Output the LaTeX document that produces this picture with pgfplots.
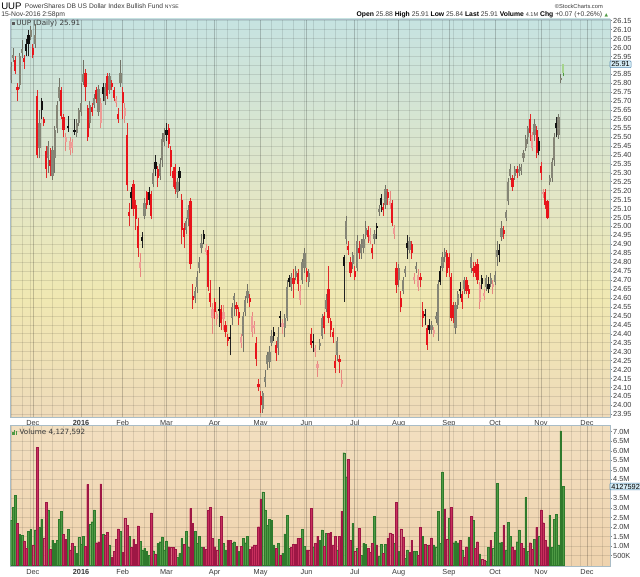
\documentclass[border=0pt]{standalone}
\usepackage{fontspec}
\setmainfont{Liberation Sans}
\newfontfamily\djv{DejaVu Sans}
\usepackage{pgfplots}
\usepackage{pgfplotstable}
\pgfplotsset{compat=1.18}

\definecolor{pbTop}{HTML}{C6E3E1}
\definecolor{pbMid}{HTML}{E2E6C6}
\definecolor{pbYel}{HTML}{F0E8B2}
\definecolor{pbBot}{HTML}{EFDBBA}
\definecolor{vbTop}{HTML}{F2DFC0}
\definecolor{vbBot}{HTML}{EFD3AE}
\pgfdeclareverticalshading{pricebg}{100bp}{color(0bp)=(pbBot); color(25bp)=(pbBot); color(40bp)=(pbYel); color(53bp)=(pbMid); color(75bp)=(pbTop); color(100bp)=(pbTop)}
\pgfdeclareverticalshading{volbg}{100bp}{color(0bp)=(vbBot); color(25bp)=(vbBot); color(75bp)=(vbTop); color(100bp)=(vbTop)}

\definecolor{frameC}{HTML}{A9BCC6}
\definecolor{labelC}{HTML}{3A3A3A}
\definecolor{cGb}{HTML}{858576}
\definecolor{cGw}{HTML}{727266}
\definecolor{cKb}{HTML}{111111}
\definecolor{cKw}{HTML}{222222}
\definecolor{cRb}{HTML}{E8141B}
\definecolor{cRw}{HTML}{E02A2A}
\definecolor{cPb}{HTML}{EE9C96}
\definecolor{cPw}{HTML}{E8867F}
\definecolor{cNb}{HTML}{A5D48C}
\definecolor{cNw}{HTML}{4E9A3E}
\definecolor{vG}{HTML}{4E9A44}
\definecolor{vGd}{HTML}{2F7A2C}
\definecolor{vR}{HTML}{C8305E}
\definecolor{vRd}{HTML}{9E1745}
\definecolor{boxF}{HTML}{D6ECF5}
\definecolor{boxD}{HTML}{5B8FB5}

\newcommand{\tlf}{\fontsize{5.5}{6}\selectfont}

\pgfplotstableread{
x t o h l c
0 1 25.82 25.92 25.80 25.89
1 1 25.94 26.00 25.92 25.96
2 3 25.93 25.95 25.85 25.87
3 3 25.78 25.80 25.70 25.76
4 1 25.79 25.97 25.77 25.95
5 1 25.97 26.04 25.94 25.99
6 3 25.94 25.96 25.88 25.92
7 2 26.02 26.05 25.95 25.98
8 2 26.07 26.10 25.95 26.02
9 1 26.06 26.12 26.04 26.10
10 3 26.00 26.02 25.94 25.96
11 1 26.02 26.13 26.00 26.07
12 3 25.73 25.76 25.38 25.40
13 1 25.44 25.65 25.38 25.58
14 2 25.70 25.72 25.60 25.65
15 3 25.60 25.61 25.56 25.58
16 3 25.42 25.45 25.27 25.32
17 1 25.38 25.48 25.30 25.45
18 3 25.37 25.44 25.28 25.34
19 1 25.28 25.45 25.26 25.43
20 1 25.38 25.56 25.30 25.54
21 1 25.55 25.70 25.52 25.68
22 1 25.72 25.83 25.70 25.78
23 3 25.76 25.78 25.60 25.62
24 3 25.61 25.63 25.50 25.54
25 4 25.47 25.52 25.42 25.50
26 2 25.56 25.62 25.53 25.55
27 4 25.43 25.50 25.40 25.48
28 4 25.44 25.49 25.41 25.47
29 2 25.54 25.60 25.51 25.53
30 1 25.52 25.60 25.50 25.58
31 1 25.58 25.66 25.56 25.65
32 1 25.64 25.80 25.62 25.69
33 1 25.81 25.93 25.79 25.85
34 3 25.86 25.88 25.70 25.78
35 3 25.66 25.68 25.48 25.50
36 1 25.58 25.70 25.55 25.68
37 3 25.67 25.69 25.62 25.64
38 1 25.68 25.74 25.66 25.72
39 3 25.76 25.78 25.69 25.71
40 1 25.64 25.79 25.62 25.77
41 4 25.58 25.72 25.55 25.69
42 2 25.78 25.80 25.70 25.74
43 1 25.70 25.80 25.68 25.78
44 3 25.84 25.86 25.71 25.73
45 1 25.76 25.86 25.74 25.84
46 3 25.80 25.82 25.76 25.78
47 3 25.76 25.78 25.70 25.72
48 4 25.69 25.73 25.67 25.71
49 3 25.63 25.66 25.58 25.60
50 1 25.80 25.93 25.78 25.86
51 3 25.75 25.78 25.60 25.69
52 4 25.62 25.69 25.58 25.66
53 3 25.51 25.58 25.20 25.23
54 3 25.08 25.13 25.00 25.06
55 2 25.19 25.22 25.10 25.16
56 3 25.24 25.26 25.06 25.10
57 3 25.12 25.15 24.98 25.04
58 3 25.00 25.05 24.83 24.88
59 4 24.77 24.85 24.72 24.80
60 2 24.94 24.97 24.88 24.92
61 1 25.06 25.16 25.04 25.13
62 3 25.19 25.20 25.10 25.12
63 2 25.19 25.22 25.12 25.15
64 3 25.18 25.20 25.04 25.06
65 1 25.24 25.32 25.22 25.30
66 2 25.36 25.40 25.28 25.32
67 3 25.32 25.34 25.22 25.27
68 1 25.28 25.38 25.26 25.35
69 1 25.37 25.52 25.33 25.49
70 1 25.47 25.55 25.45 25.52
71 2 25.54 25.58 25.48 25.51
72 3 25.55 25.57 25.44 25.46
73 3 25.43 25.45 25.28 25.33
74 3 25.31 25.33 25.22 25.27
75 3 25.33 25.35 25.18 25.21
76 1 25.19 25.27 25.16 25.25
77 2 25.31 25.33 25.20 25.27
78 3 25.15 25.18 24.90 24.98
79 3 24.99 25.02 24.88 24.94
80 1 24.98 25.05 24.96 25.03
81 1 25.04 25.12 25.00 25.09
82 3 25.14 25.16 24.76 24.79
83 3 24.61 24.68 24.54 24.59
84 1 24.60 24.66 24.57 24.64
85 1 24.66 24.75 24.63 24.72
86 1 24.77 24.83 24.74 24.80
87 1 24.88 24.96 24.85 24.91
88 2 24.96 24.98 24.90 24.93
89 4 24.86 24.90 24.84 24.88
90 3 24.87 24.89 24.64 24.66
91 3 24.63 24.70 24.55 24.58
92 4 24.49 24.57 24.40 24.54
93 3 24.58 24.60 24.48 24.52
94 4 24.48 24.53 24.45 24.51
95 2 24.54 24.66 24.44 24.53
96 3 24.54 24.56 24.42 24.46
97 4 24.48 24.56 24.42 24.52
98 3 24.45 24.47 24.38 24.41
99 3 24.38 24.40 24.33 24.36
100 2 24.38 24.45 24.28 24.37
101 1 24.49 24.57 24.45 24.55
102 1 24.59 24.63 24.50 24.61
103 3 24.56 24.58 24.50 24.54
104 3 24.52 24.55 24.45 24.49
105 4 24.35 24.40 24.32 24.38
106 1 24.39 24.52 24.30 24.50
107 1 24.52 24.61 24.50 24.59
108 1 24.60 24.68 24.57 24.64
109 3 24.60 24.62 24.55 24.58
110 4 24.41 24.52 24.38 24.50
111 4 24.43 24.47 24.40 24.45
112 3 24.35 24.38 24.22 24.26
113 3 24.12 24.15 24.08 24.10
114 3 24.05 24.08 23.96 24.00
115 1 23.98 24.08 23.96 24.07
116 1 24.13 24.20 24.10 24.16
117 1 24.23 24.30 24.20 24.28
118 1 24.24 24.33 24.21 24.30
119 1 24.35 24.42 24.33 24.39
120 2 24.41 24.44 24.36 24.39
121 3 24.34 24.36 24.25 24.29
122 1 24.32 24.44 24.28 24.38
123 2 24.50 24.53 24.44 24.49
124 4 24.44 24.48 24.40 24.46
125 1 24.43 24.51 24.38 24.49
126 1 24.49 24.70 24.47 24.66
127 2 24.71 24.73 24.66 24.69
128 1 24.66 24.74 24.64 24.72
129 3 24.71 24.76 24.60 24.68
130 1 24.72 24.78 24.70 24.75
131 3 24.74 24.76 24.64 24.68
132 4 24.59 24.67 24.56 24.64
133 1 24.70 24.82 24.68 24.80
134 1 24.77 24.88 24.74 24.85
135 3 24.75 24.77 24.69 24.72
136 1 24.69 24.76 24.66 24.74
137 3 24.40 24.43 24.32 24.34
138 2 24.36 24.40 24.30 24.35
139 4 24.30 24.34 24.27 24.32
140 4 24.21 24.25 24.16 24.23
141 1 24.33 24.37 24.31 24.35
142 1 24.39 24.51 24.37 24.49
143 3 24.50 24.52 24.40 24.43
144 1 24.54 24.62 24.52 24.59
145 3 24.65 24.78 24.46 24.49
146 3 24.47 24.49 24.38 24.42
147 3 24.41 24.43 24.35 24.38
148 3 24.25 24.28 24.18 24.21
149 1 24.28 24.38 24.25 24.36
150 3 24.26 24.28 24.18 24.24
151 4 24.12 24.20 24.10 24.14
152 2 24.83 24.84 24.58 24.78
153 1 24.93 25.06 24.90 25.03
154 3 24.89 24.92 24.84 24.87
155 3 24.80 24.83 24.72 24.74
156 1 24.79 24.86 24.76 24.84
157 3 24.75 24.78 24.70 24.72
158 1 24.77 24.95 24.75 24.92
159 3 24.88 24.92 24.82 24.85
160 1 24.85 24.93 24.82 24.90
161 1 24.88 24.96 24.85 24.93
162 1 24.95 25.03 24.93 24.99
163 3 24.98 25.00 24.91 24.94
164 4 24.92 24.99 24.90 24.95
165 3 24.88 24.90 24.82 24.85
166 1 24.93 24.98 24.90 24.96
167 2 25.00 25.02 24.93 24.99
168 1 25.08 25.12 25.06 25.10
169 2 25.16 25.18 25.08 25.12
170 3 25.11 25.13 25.06 25.09
171 1 25.12 25.23 25.10 25.21
172 3 25.19 25.21 25.12 25.16
173 4 25.12 25.20 25.10 25.14
174 3 25.13 25.15 25.00 25.02
175 4 24.96 25.01 24.93 24.99
176 3 24.77 24.80 24.63 24.67
177 1 24.70 24.79 24.66 24.77
178 3 24.60 24.64 24.52 24.55
179 1 24.64 24.72 24.62 24.70
180 1 24.74 24.78 24.72 24.76
181 2 24.91 24.95 24.82 24.88
182 1 24.87 24.94 24.85 24.92
183 3 24.90 24.92 24.82 24.85
184 4 24.70 24.74 24.68 24.72
185 1 24.76 24.80 24.74 24.78
186 4 24.66 24.76 24.64 24.73
187 3 24.72 24.74 24.66 24.70
188 3 24.53 24.58 24.44 24.49
189 2 24.51 24.54 24.45 24.50
190 3 24.43 24.45 24.31 24.34
191 2 24.45 24.48 24.40 24.42
192 1 24.42 24.47 24.40 24.45
193 4 24.40 24.44 24.38 24.42
194 1 24.48 24.52 24.46 24.50
195 1 24.45 24.70 24.36 24.68
196 2 24.75 24.78 24.67 24.69
197 1 24.77 24.86 24.75 24.83
198 1 24.83 24.88 24.80 24.86
199 3 24.85 24.87 24.72 24.74
200 3 24.83 24.85 24.72 24.77
201 3 24.72 24.74 24.47 24.49
202 3 24.56 24.58 24.46 24.49
203 1 24.43 24.58 24.40 24.56
204 1 24.56 24.64 24.54 24.62
205 2 24.65 24.69 24.60 24.64
206 3 24.62 24.64 24.54 24.58
207 1 24.65 24.72 24.62 24.70
208 3 24.70 24.72 24.62 24.64
209 3 24.65 24.67 24.60 24.62
210 1 24.77 24.85 24.74 24.83
211 3 24.77 24.80 24.72 24.75
212 3 24.78 24.80 24.72 24.74
213 3 24.79 24.82 24.68 24.70
214 4 24.58 24.69 24.54 24.67
215 2 24.71 24.73 24.65 24.68
216 4 24.61 24.65 24.59 24.63
217 1 24.66 24.73 24.64 24.71
218 2 24.68 24.72 24.63 24.65
219 1 24.68 24.74 24.66 24.71
220 4 24.66 24.70 24.62 24.68
221 1 24.69 24.75 24.67 24.73
222 1 24.83 24.92 24.78 24.87
223 2 24.87 24.90 24.80 24.84
224 1 24.94 25.03 24.92 24.99
225 3 24.98 25.00 24.93 24.96
226 1 25.05 25.09 25.03 25.08
227 1 25.14 25.27 25.12 25.25
228 1 25.28 25.35 25.26 25.32
229 3 25.27 25.29 25.20 25.22
230 1 25.28 25.34 25.26 25.32
231 3 25.32 25.34 25.27 25.30
232 1 25.30 25.35 25.28 25.32
233 1 25.31 25.35 25.29 25.33
234 1 25.38 25.43 25.36 25.41
235 1 25.44 25.51 25.42 25.49
236 1 25.50 25.56 25.46 25.55
237 3 25.60 25.63 25.48 25.52
238 4 25.44 25.53 25.42 25.51
239 1 25.51 25.60 25.48 25.57
240 3 25.54 25.56 25.38 25.41
241 2 25.48 25.50 25.40 25.42
242 3 25.34 25.36 25.26 25.30
243 4 25.18 25.21 25.16 25.19
244 3 25.19 25.21 25.10 25.12
245 3 25.14 25.15 25.04 25.05
246 1 25.25 25.29 25.23 25.27
247 1 25.27 25.38 25.25 25.36
248 1 25.37 25.52 25.34 25.50
249 2 25.58 25.61 25.50 25.55
250 1 25.51 25.63 25.49 25.61
251 1 25.82 25.85 25.80 25.83
252 5 25.86 25.91 25.84 25.91
}\price
\pgfplotstablecreatecol[create col/expr={min(\thisrow{o},\thisrow{c})}]{bb}{\price}
\pgfplotstablecreatecol[create col/expr={abs(\thisrow{c}-\thisrow{o})}]{bh}{\price}
\pgfplotstablecreatecol[create col/expr={\thisrow{h}-\thisrow{l}}]{wh}{\price}

\pgfplotstableread{
x v c
0 2.37 1
1 3.02 1
2 3.68 1
3 2.19 0
4 1.62 1
5 1.58 1
6 1.27 0
7 0.88 0
8 1.76 1
9 1.88 1
10 1.06 0
11 1.85 1
12 6.18 0
13 1.97 1
14 2.42 1
15 1.43 0
16 3.31 0
17 2.90 1
18 0.83 0
19 1.32 1
20 1.15 1
21 1.30 1
22 2.41 1
23 2.84 1
24 1.62 0
25 1.37 0
26 1.88 1
27 0.80 0
28 1.15 0
29 1.00 1
30 0.62 1
31 1.46 1
32 1.11 1
33 1.50 1
34 1.00 0
35 4.24 0
36 2.16 1
37 2.28 1
38 2.90 1
39 1.18 0
40 1.23 0
41 4.26 0
42 1.62 1
43 1.58 0
44 1.74 0
45 1.06 1
46 0.41 0
47 0.71 0
48 1.37 0
49 1.90 0
50 1.76 1
51 0.66 0
52 2.47 0
53 2.10 0
54 1.50 1
55 0.92 0
56 1.36 0
57 1.11 0
58 2.06 0
59 1.25 1
60 0.80 1
61 0.90 1
62 0.71 1
63 0.50 1
64 2.75 0
65 0.76 1
66 0.59 0
67 1.15 1
68 1.23 1
69 1.48 1
70 0.80 1
71 1.27 1
72 0.97 0
73 0.94 0
74 0.94 0
75 0.83 0
76 0.41 1
77 0.62 1
78 1.41 1
79 1.09 0
80 1.79 1
81 0.97 1
82 2.98 0
83 2.19 0
84 1.76 1
85 1.15 1
86 1.53 1
87 0.94 1
88 0.92 0
89 0.83 0
90 2.86 0
91 3.02 0
92 1.41 0
93 0.97 0
94 0.80 0
95 1.36 1
96 2.58 0
97 1.15 1
98 0.80 1
99 1.32 0
100 1.32 0
101 1.15 1
102 1.23 1
103 1.00 0
104 0.71 1
105 1.00 0
106 1.41 1
107 1.18 1
108 1.53 1
109 0.83 0
110 0.97 0
111 1.06 0
112 1.06 0
113 2.02 0
114 3.45 0
115 3.85 1
116 2.90 1
117 2.10 1
118 2.40 1
119 2.37 1
120 1.06 1
121 0.88 0
122 1.15 1
123 0.53 0
124 0.62 1
125 1.64 1
126 2.63 1
127 0.88 1
128 0.95 0
129 1.11 0
130 1.11 0
131 1.41 0
132 1.41 0
133 1.88 1
134 1.00 1
135 0.80 0
136 0.80 0
137 2.98 0
138 0.97 1
139 1.15 0
140 1.53 0
141 1.32 1
142 1.85 1
143 1.00 0
144 1.67 1
145 1.67 0
146 1.72 0
147 1.06 0
148 1.53 0
149 0.80 1
150 1.50 0
151 2.84 0
152 5.90 1
153 4.64 1
154 5.55 0
155 1.32 0
156 2.19 1
157 0.71 0
158 0.88 1
159 1.93 0
160 0.53 1
161 1.15 1
162 1.11 1
163 0.90 0
164 0.66 0
165 1.15 0
166 2.58 1
167 1.06 0
168 0.48 1
169 1.09 1
170 0.62 0
171 1.09 1
172 1.41 0
173 1.70 0
174 1.64 0
175 1.15 1
176 3.28 0
177 0.71 1
178 1.90 0
179 1.46 0
180 0.36 1
181 0.80 1
182 0.66 0
183 1.32 0
184 0.71 1
185 0.71 1
186 0.50 0
187 1.97 0
188 1.50 1
189 1.11 0
190 1.04 1
191 1.06 0
192 1.43 0
193 1.06 1
194 0.97 1
195 2.84 1
196 1.15 1
197 4.89 1
198 2.95 0
199 1.36 0
200 2.45 1
201 3.02 0
202 1.18 1
203 1.27 1
204 1.18 1
205 1.32 0
206 0.80 1
207 0.44 0
208 0.97 0
209 1.45 1
210 2.58 0
211 2.37 1
212 0.88 0
213 1.23 0
214 0.59 1
215 0.31 0
216 0.27 0
217 0.19 1
218 0.94 1
219 1.32 0
220 0.88 1
221 1.71 1
222 4.29 1
223 1.18 1
224 1.20 1
225 2.10 0
226 0.80 1
227 2.25 1
228 1.50 1
229 0.97 0
230 0.80 0
231 1.23 1
232 1.85 1
233 1.15 0
234 0.88 0
235 3.56 1
236 0.71 1
237 1.18 0
238 0.83 0
239 1.37 1
240 1.99 0
241 1.50 1
242 2.90 0
243 2.23 0
244 1.32 0
245 0.97 0
246 2.63 1
247 0.92 1
248 2.42 1
249 2.67 1
250 1.06 1
251 7.04 1
252 4.15 1
}\vol

\newcommand{\candles}[4]{%
\addplot[draw=none, no markers, forget plot, restrict expr to domain={\thisrow{t}}{#1:#1},
  error bars/.cd, y dir=plus, y explicit, error mark=none,
  error bar style={draw=#2, line width=0.55pt, solid}]
  table[x=x, y=l, y error=wh] {\price};
\addplot[draw=none, no markers, forget plot, restrict expr to domain={\thisrow{t}}{#1:#1},
  error bars/.cd, y dir=plus, y explicit, error mark=none,
  error bar style={draw=#3, line width=#4, solid}]
  table[x=x, y=bb, y error=bh] {\price};
}

\pgfplotsset{
  panel/.style={
    scale only axis, anchor=south west,
    width=449.625pt,
    xmin=-0.2, xmax=273.5,
    axis line style={draw=frameC, line width=0.6pt},
    xtick={10,32,51,71,93,114,135,157,177,200,221,242,263},
    xticklabels={Dec,\textbf{2016},Feb,Mar,Apr,May,Jun,Jul,Aug,Sep,Oct,Nov,Dec},
    minor xtick={0,5,9,14,19,24,28,37,42,46,56,61,65,70,75,80,85,89,94,99,104,109,119,124,129,134,138,143,148,153,158,162,167,172,182,187,192,197,202,206,211,216,226,231,236,241,246,251,256,260,265,270},
    xmajorgrids, xminorgrids, ymajorgrids,
    major x grid style={draw=black, opacity=0.2, line width=0.5pt},
    minor x grid style={draw=black, opacity=0.1, line width=0.5pt},
    major y grid style={draw=black, opacity=0.1, line width=0.5pt},
    x tick style={draw=none},
    ytick pos=right, yticklabel pos=right,
    tick align=outside, major tick length=1.6pt,
    y tick style={draw=gray, line width=0.4pt},
    xticklabel style={font=\tlf, text=labelC, inner sep=0.8pt},
    yticklabel style={font=\tlf, text=labelC, inner sep=0.6pt},
  }
}

\begin{document}
\begin{tikzpicture}
\useasboundingbox (0,0) rectangle (480pt,432pt);
\fill[white] (0,0) rectangle (480pt,432pt);

% price panel
\begin{axis}[panel,
  at={(7.875pt,119.25pt)}, height=298.5pt,
  ymin=23.935, ymax=26.1595,
  ytick distance=0.05,
  yticklabel style={/pgf/number format/fixed, /pgf/number format/fixed zerofill,
    /pgf/number format/precision=2, /pgf/number format/assume math mode=true},
  scaled y ticks=false,
  axis background/.style={shade, shading=pricebg},
]
\candles{1}{cGw}{cGb}{1.65pt}
\candles{2}{cKw}{cKb}{1.65pt}
\candles{3}{cRw}{cRb}{1.65pt}
\candles{4}{cPw}{cPb}{1.65pt}
\candles{5}{cNw}{cNb}{1.65pt}
\end{axis}

% volume panel
\begin{axis}[panel,
  at={(7.875pt,7.5pt)}, height=105.225pt,
  ymin=-0.042, ymax=7.315,
  ytick={0.5,1,1.5,2,2.5,3,3.5,4,4.5,5,5.5,6,6.5,7},
  yticklabels={500K,1.0M,1.5M,2.0M,2.5M,3.0M,3.5M,{},4.5M,5.0M,5.5M,6.0M,6.5M,7.0M},
  axis background/.style={shade, shading=volbg},
]
\addplot[ybar, bar width=0.8, bar shift=0pt, fill=vG, draw=vGd, line width=0.25pt,
  restrict expr to domain={\thisrow{c}}{1:1}] table[x=x, y=v] {\vol};
\addplot[ybar, bar width=0.8, bar shift=0pt, fill=vR, draw=vRd, line width=0.25pt,
  restrict expr to domain={\thisrow{c}}{0:0}] table[x=x, y=v] {\vol};
\end{axis}

% header
\node[anchor=west, inner sep=0] at (0.75pt,427.6pt) {\fontsize{7.2}{8}\selectfont UUP};
\node[anchor=west, inner sep=0, text=labelC] at (18.5pt,427.6pt) {\fontsize{5}{6}\selectfont PowerShares DB US Dollar Index Bullish Fund \fontsize{3.8}{4}\selectfont NYSE};
\node[anchor=west, inner sep=0, text=labelC] at (0.75pt,420.8pt) {\fontsize{5.1}{6}\selectfont 15-Nov-2016 2:58pm};
\node[anchor=east, inner sep=0, text=labelC] at (452.3pt,427.4pt) {\fontsize{4.3}{5}\selectfont ©StockCharts.com};
\node[anchor=east, inner sep=0] at (451.8pt,420.8pt) {\fontsize{5.1}{6}\selectfont
  \textbf{Open} \textcolor{labelC}{25.88} \textbf{High} \textcolor{labelC}{25.91} \textbf{Low} \textcolor{labelC}{25.84} \textbf{Last} \textcolor{labelC}{25.91} \textbf{Volume} \textcolor{labelC}{\fontsize{4.2}{5}\selectfont 4.1M} \textbf{Chg} \textcolor{labelC}{+0.07 (+0.26\%)}};
\node[anchor=west, inner sep=0, text=vG] at (453.2pt,420.8pt) {\djv\fontsize{3.4}{4}\selectfont ▲};

% panel titles
\fill[black!65] (8.7pt,412.9pt) rectangle (10.9pt,415.2pt);
\node[anchor=west, inner sep=0, text=labelC] at (12pt,414pt) {\djv\fontsize{5.4}{6}\selectfont UUP (Daily) 25.91};
\fill[vG] (9.2pt,105.75pt) rectangle (10.2pt,107.8pt);
\fill[vG] (10.5pt,105.75pt) rectangle (11.5pt,109.3pt);
\fill[vG] (11.8pt,105.75pt) rectangle (12.8pt,108.5pt);
\node[anchor=west, inner sep=0, text=labelC] at (14.5pt,108pt) {\djv\fontsize{5.4}{6}\selectfont Volume 4,127,592};

% last value boxes
\node[anchor=west, draw=boxD, fill=boxF, line width=0.4pt, inner xsep=1pt, inner ysep=0.6pt, rounded corners=0.6pt] at (457.3pt,383.8pt) {\tlf 25.91};
\node[anchor=west, draw=boxD, fill=boxF, line width=0.4pt, inner xsep=1pt, inner ysep=0.6pt, rounded corners=0.6pt] at (457.3pt,67.1pt) {\tlf 4127592};
\end{tikzpicture}
\end{document}
